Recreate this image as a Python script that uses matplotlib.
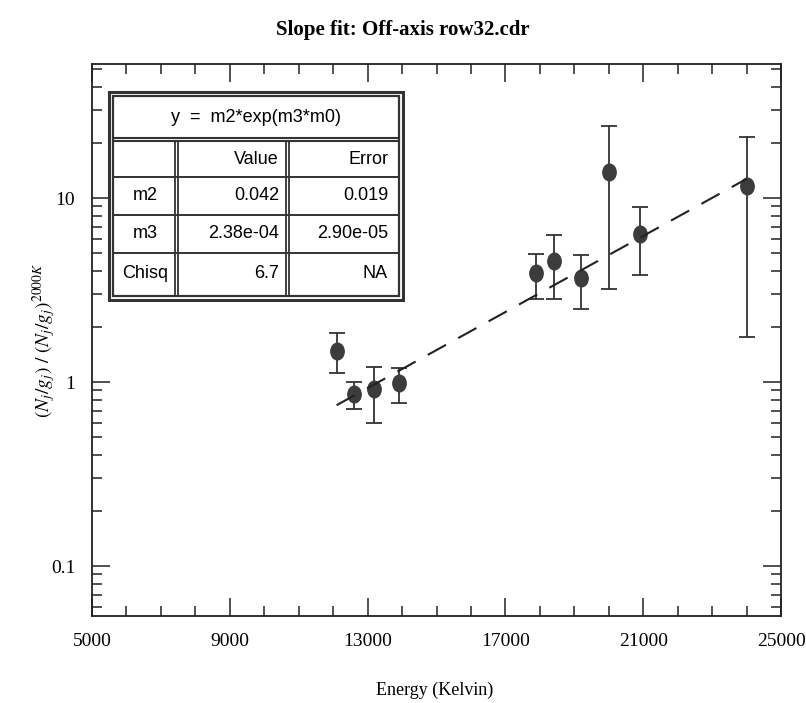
import matplotlib
matplotlib.use("Agg")
import matplotlib.pyplot as plt
from matplotlib.markers import MarkerStyle
from matplotlib.transforms import Affine2D
import numpy as np

# data
energy = [12100, 12600, 13200, 13900, 17900, 18400, 19200, 20000, 20900, 24000]
ratio = [1.47, 0.86, 0.92, 0.99, 3.91, 4.55, 3.67, 13.8, 6.37, 11.6]
bar_hi = [1.85, 1.00, 1.21, 1.19, 4.96, 6.29, 4.90, 24.6, 8.93, 21.5]
bar_lo = [1.12, 0.71, 0.60, 0.77, 2.83, 2.83, 2.49, 3.19, 3.82, 1.76]

# fit results shown in the table
m2, m2_err = 0.042, 0.019
m3, m3_err = 2.38e-4, 2.90e-05
chisq = 6.7

table_rows = [["m2", "0.042", "0.019"],
              ["m3", "2.38e-04", "2.90e-05"],
              ["Chisq", "6.7", "NA"]]

W, H = 806, 703
plt.rcParams['lines.scale_dashes'] = False
plt.rcParams['mathtext.fontset'] = 'stix'
serif = ['Liberation Serif', 'DejaVu Serif']
narrow = ['Liberation Sans Narrow', 'Liberation Sans', 'DejaVu Sans']


def px(x0, y0, x1, y1):
    # figure-pixel box (top-left origin) -> axes rect
    return [x0 / W, 1 - y1 / H, (x1 - x0) / W, (y1 - y0) / H]


def main():
    fig = plt.figure(figsize=(W / 100, H / 100), dpi=100)
    ax = fig.add_axes(px(92, 64, 781, 616))

    y = np.array(ratio)
    yerr = [y - np.array(bar_lo), np.array(bar_hi) - y]
    dot = MarkerStyle('o', transform=Affine2D().scale(0.8, 1.0))
    ax.errorbar(energy, ratio, yerr=yerr, fmt='none', ecolor='#333333',
                elinewidth=1.3, capsize=6, capthick=1.3)
    ax.plot(energy, ratio, ls='none', marker=dot, ms=12, color='#3c3c3c',
            mec='#3c3c3c')

    xf = np.linspace(min(energy), max(energy), 60)
    ax.plot(xf, m2 * np.exp(m3 * xf), color='#222222', lw=1.5, dashes=(15, 10))

    ax.set_yscale('log')
    ax.set_xlim(5000, 25000)
    ax.set_ylim(0.0535, 53.5)
    ax.set_xticks(np.arange(5000, 25001, 4000))
    ax.set_xticks(np.arange(5000, 25001, 1000), minor=True)
    ax.set_yticks([0.1, 1, 10])
    ax.set_yticklabels(['0.1', '1', '10'])
    ax.tick_params(which='both', direction='in', top=True, right=True,
                   width=1.1, color='#222222')
    ax.tick_params(which='major', length=13)
    ax.tick_params(axis='x', which='major', pad=12)
    ax.tick_params(axis='y', which='major', pad=12)
    ax.tick_params(which='minor', length=7)
    for lab in ax.get_xticklabels() + ax.get_yticklabels():
        lab.set_family(serif)
        lab.set_fontsize(14)
    for s in ax.spines.values():
        s.set_linewidth(1.3)
        s.set_color('#222222')

    fig.text(0.5, 1 - 30 / H, 'Slope fit: Off-axis row32.cdr', ha='center',
             va='center', family=serif, fontsize=15, fontweight='bold')
    fig.text(435 / W, 1 - 690 / H, 'Energy (Kelvin)', ha='center',
             va='center', family=serif, fontsize=13)
    fig.text(44 / W, 1 - 340 / H, r'$(N_j/g_j)\ /\ (N_j/g_j)^{2000K}$',
             ha='center', va='center', rotation=90, fontsize=14)

    # fit table drawn in figure pixels
    tx = fig.add_axes(px(106, 90, 405, 302))
    tx.set_xlim(106, 405)
    tx.set_ylim(302, 90)
    tx.axis('off')
    k = '#333333'
    tx.add_patch(plt.Rectangle((109, 92), 294, 208, fill=True, fc='white',
                               ec=k, lw=2.2))
    tx.add_patch(plt.Rectangle((113, 96), 286, 200, fill=False, ec=k, lw=1.6))
    for yy in (138, 141):
        tx.plot([113, 399], [yy, yy], color=k, lw=1.5)
    for xx in (175, 178, 286, 289):
        tx.plot([xx, xx], [141, 296], color=k, lw=1.3)
    for yy in (177, 215, 253):
        tx.plot([113, 399], [yy, yy], color=k, lw=1.4)

    tx.text(256, 118, 'y  =  m2*exp(m3*m0)', ha='center', va='center',
            family=narrow, fontsize=13)
    tx.text(279, 159, 'Value', ha='right', va='center', family=narrow,
            fontsize=13)
    tx.text(388, 159, 'Error', ha='right', va='center', family=narrow,
            fontsize=13)
    for row, yc in zip(table_rows, (196, 234, 274)):
        tx.text(145, yc, row[0], ha='center', va='center', family=narrow,
                fontsize=13)
        tx.text(279, yc, row[1], ha='right', va='center', family=narrow,
                fontsize=13)
        tx.text(388, yc, row[2], ha='right', va='center', family=narrow,
                fontsize=13)

    fig.savefig('out.png', dpi=100)


if __name__ == "__main__":
    main()
